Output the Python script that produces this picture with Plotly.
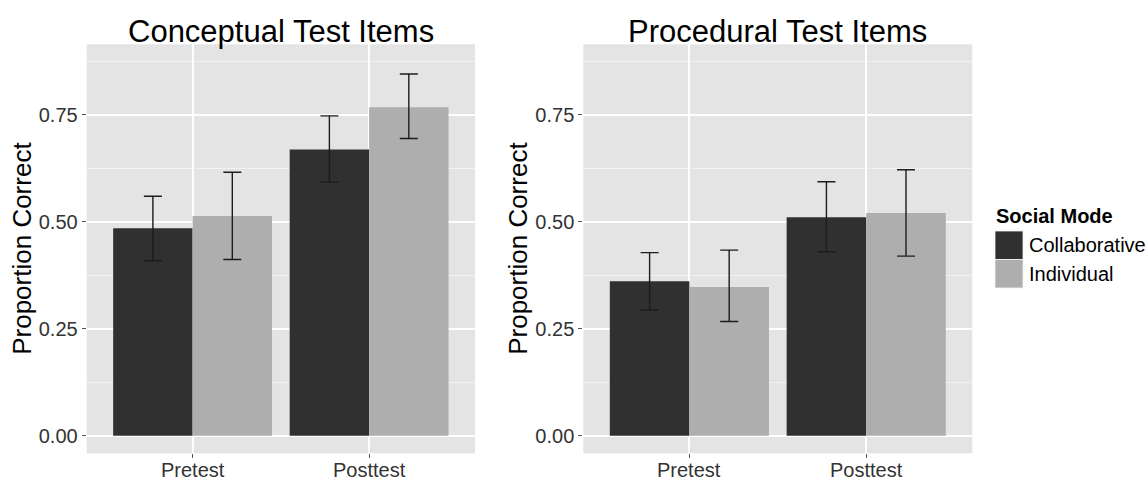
import plotly.graph_objects as go

# ---- data ----
tests = ["Pretest", "Posttest"]
modes = ["Collaborative", "Individual"]
panel_titles = ["Conceptual Test Items", "Procedural Test Items"]

concept_collab = [0.485, 0.669]
concept_collab_hi = [0.560, 0.748]
concept_collab_lo = [0.409, 0.593]
concept_indiv = [0.514, 0.768]
concept_indiv_hi = [0.616, 0.846]
concept_indiv_lo = [0.412, 0.695]

proc_collab = [0.361, 0.511]
proc_collab_hi = [0.428, 0.594]
proc_collab_lo = [0.294, 0.430]
proc_indiv = [0.348, 0.521]
proc_indiv_hi = [0.434, 0.622]
proc_indiv_lo = [0.267, 0.420]

y_ticks = [0, 0.25, 0.5, 0.75]
y_tick_labels = ["0.00", "0.25", "0.50", "0.75"]
y_minor = [0.125, 0.375, 0.625, 0.875]

colors = {"Collaborative": "#303030", "Individual": "#AEAEAE"}

W, H = 1147, 479
FONT = "Liberation Sans, Arial, Helvetica, sans-serif"

def px(x):
    return x / W

def py(y):
    return 1 - y / H

fig = go.Figure()

panels = [
    ("x", "y", {"Collaborative": (concept_collab, concept_collab_hi, concept_collab_lo),
                "Individual": (concept_indiv, concept_indiv_hi, concept_indiv_lo)}),
    ("x2", "y2", {"Collaborative": (proc_collab, proc_collab_hi, proc_collab_lo),
                  "Individual": (proc_indiv, proc_indiv_hi, proc_indiv_lo)}),
]

for xa, ya, data in panels:
    for m in modes:
        vals, hi, lo = data[m]
        fig.add_trace(go.Bar(
            x=tests, y=vals, name=m, xaxis=xa, yaxis=ya,
            marker=dict(color=colors[m], line=dict(width=0)),
            offsetgroup=m,
            error_y=dict(type="data", symmetric=False,
                         array=[h - v for h, v in zip(hi, vals)],
                         arrayminus=[v - l for v, l in zip(vals, lo)],
                         color="#1c1c1c", thickness=1.4, width=9),
            showlegend=False,
        ))

domains_x = [[px(86.7), px(475)], [px(583.3), px(972.3)]]
dom_y = [py(453.3), py(44.3)]
yrange = [-0.0412, 0.9153]

axis_common_x = dict(
    type="category", range=[-0.6, 1.6], showgrid=True, gridcolor="white", gridwidth=1.5,
    ticks="outside", ticklen=4, tickwidth=1, tickcolor="#555555",
    showticklabels=False, showline=False, zeroline=False,
    fixedrange=True, automargin=False,
)
axis_common_y = dict(
    range=yrange, tickvals=y_ticks, ticktext=y_tick_labels, showgrid=True,
    gridcolor="white", gridwidth=1.5, ticks="outside", ticklen=4, tickwidth=1,
    tickcolor="#555555", tickfont=dict(size=20, color="#333333", family=FONT),
    zeroline=False, showline=False, automargin=False,
    minor=dict(tickvals=y_minor, showgrid=True, gridcolor="#F2F2F2", gridwidth=0.8, ticks=""),
    fixedrange=True,
)

fig.update_layout(
    width=W, height=H,
    margin=dict(l=0, r=0, t=0, b=0),
    paper_bgcolor="white",
    plot_bgcolor="#E4E4E4",
    barmode="group", bargap=0.1, bargroupgap=0,
    font=dict(family=FONT, color="#000000"),
    xaxis=dict(domain=domains_x[0], anchor="y", **axis_common_x),
    xaxis2=dict(domain=domains_x[1], anchor="y2", **axis_common_x),
    yaxis=dict(domain=dom_y, anchor="x", **axis_common_y),
    yaxis2=dict(domain=dom_y, anchor="x2", **axis_common_y),
)

annotations = []
# x tick labels (placed on each category of the x axes)
for xref in ["x", "x2"]:
    for t in tests:
        annotations.append(dict(text=t, x=t, y=py(469.5), xref=xref, yref="paper",
                                xanchor="center", yanchor="middle", showarrow=False,
                                font=dict(size=20, color="#333333", family=FONT)))
# panel titles
for dx, t in zip(domains_x, panel_titles):
    annotations.append(dict(text=t, x=(dx[0] + dx[1]) / 2, y=py(31), xref="paper", yref="paper",
                            xanchor="center", yanchor="middle", showarrow=False,
                            font=dict(size=31, color="#000000", family=FONT)))
# y-axis titles
for xc in [22, 518]:
    annotations.append(dict(text="Proportion Correct", x=px(xc), y=(dom_y[0] + dom_y[1]) / 2,
                            xref="paper", yref="paper", xanchor="center", yanchor="middle",
                            textangle=-90, showarrow=False,
                            font=dict(size=26, color="#000000", family=FONT)))

# legend (drawn manually to match the large square keys)
annotations.append(dict(text="<b>Social Mode</b>", x=px(994), y=py(216), xref="paper", yref="paper",
                        xanchor="left", yanchor="middle", showarrow=False,
                        font=dict(size=20, color="#000000", family=FONT)))
shapes = []
key_tops = [231, 259.5]
for m, top in zip(modes, key_tops):
    shapes.append(dict(type="rect", xref="paper", yref="paper",
                       x0=px(995), x1=px(1023), y0=py(top + 28.5), y1=py(top),
                       fillcolor=colors[m], line=dict(color="#F2F2F2", width=0.8)))
    annotations.append(dict(text=m, x=px(1027), y=py(top + 14), xref="paper", yref="paper",
                            xanchor="left", yanchor="middle", showarrow=False,
                            font=dict(size=20, color="#000000", family=FONT)))

fig.update_layout(annotations=annotations, shapes=shapes)

fig.write_html("out.html", config={"displayModeBar": False},
               post_script="document.body.style.margin='0';document.body.style.overflow='hidden';")
